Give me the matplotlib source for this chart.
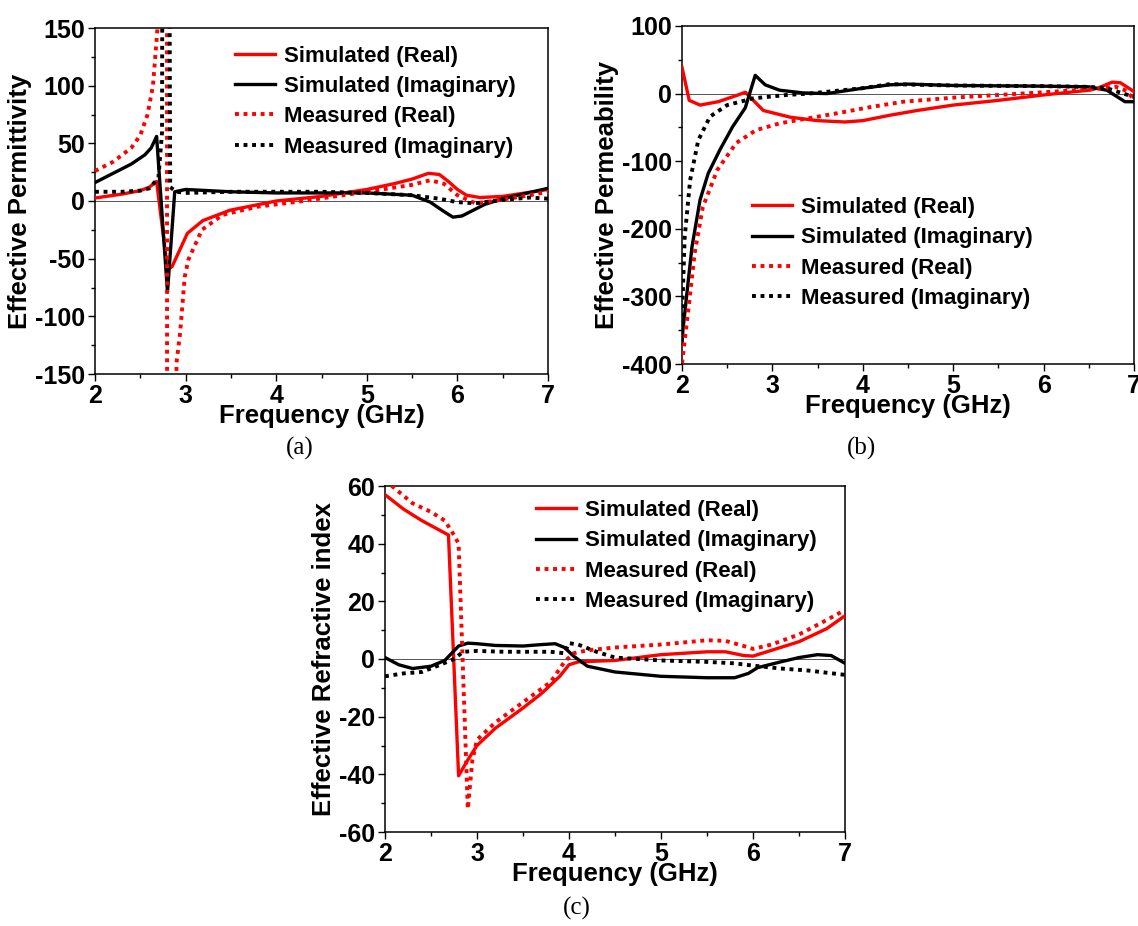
import numpy as np
import matplotlib
matplotlib.use("Agg")
import matplotlib.pyplot as plt

plt.rcParams['font.family'] = ['Liberation Sans', 'DejaVu Sans']
plt.rcParams['font.weight'] = 'bold'
plt.rcParams['axes.unicode_minus'] = False

# ---------------- (a) effective permittivity ----------------
a_sim_re_f = [2.0, 2.3, 2.5, 2.6, 2.68, 2.8, 2.85, 3.02, 3.19, 3.49, 4.0, 4.5, 5.0, 5.3, 5.5, 5.68, 5.8, 5.9, 6.0, 6.1, 6.25, 6.5, 7.0]
a_sim_re = [2.6, 6, 9, 12, 17, -59, -57, -28, -17, -8, 0, 4, 10, 15, 19, 24, 23, 17, 10, 5, 3, 4, 10]

a_sim_im_f = [2.0, 2.2, 2.4, 2.55, 2.62, 2.68, 2.8, 2.88, 3.0, 3.5, 4.0, 5.0, 5.5, 5.7, 5.85, 5.95, 6.05, 6.3, 6.5, 7.0]
a_sim_im = [16, 24, 32, 40, 46, 56, -79, 8, 10, 8, 7, 7, 5, -1, -9, -14, -13, -3, 2, 11]

a_mea_re_f = [2.0, 2.2, 2.4, 2.5, 2.58, 2.64, 2.69, 2.72, 2.79, 2.8, 2.86, 2.9, 2.94, 2.99, 3.03, 3.18, 3.41, 3.79, 4.3, 5.0, 5.5, 5.7, 5.85, 6.0, 6.2, 6.4, 6.8, 7.0]
a_mea_re = [26, 34, 46, 57, 75, 100, 150, 400, 3000, -3000, -400, -140, -114, -66, -51, -25, -12, -5, 0, 8, 14, 18, 15, 5, -2, 0, 5, 8]

a_mea_im_f = [2.0, 2.3, 2.5, 2.6, 2.7, 2.74, 2.75, 2.81, 2.83, 2.9, 3.0, 3.5, 4.0, 4.5, 5.0, 5.5, 5.8, 6.0, 6.2, 6.5, 6.8, 7.0]
a_mea_im = [8, 8, 9, 11, 20, 60, 500, 500, 12, 8, 7, 8, 8, 8, 7, 5, 2, -1, -2, 1, 3, 2]

# ---------------- (b) effective permeability ----------------
b_sim_re_f = [2.0, 2.08, 2.2, 2.4, 2.6, 2.7, 2.9, 3.2, 3.5, 3.8, 4.0, 4.3, 4.6, 5.0, 5.5, 6.0, 6.5, 6.6, 6.76, 6.85, 7.0]
b_sim_re = [39, -10, -17, -12, -3, 2, -25, -35, -40, -42, -40, -32, -25, -17, -10, -2, 5, 8, 17, 16, 3]

b_sim_im_f = [2.0, 2.01, 2.11, 2.2, 2.29, 2.42, 2.56, 2.7, 2.81, 2.92, 3.08, 3.34, 3.6, 4.0, 4.3, 4.5, 5.0, 6.0, 6.5, 6.7, 6.9, 7.0]
b_sim_im = [-370, -350, -227, -157, -118, -83, -49, -21, 27, 13, 5, 1, 0, 8, 13, 14, 12, 11, 10, 5, -12, -12]

b_mea_re_f = [2.0, 2.07, 2.14, 2.23, 2.39, 2.6, 2.82, 3.08, 3.42, 3.72, 4.08, 4.45, 5.0, 5.5, 6.0, 6.5, 6.8, 6.9, 7.0]
b_mea_re = [-399, -320, -236, -168, -113, -73, -54, -44, -36, -29, -20, -12, -6, -2, 2, 6, 10, 5, -8]

b_mea_im_f = [2.0, 2.03, 2.09, 2.18, 2.31, 2.5, 2.79, 3.16, 3.4, 4.0, 4.3, 5.0, 6.0, 6.5, 6.7, 7.0]
b_mea_im = [-330, -212, -128, -69, -34, -17, -7, -2, 0, 8, 14, 12, 11, 10, 8, -5]

# ---------------- (c) effective refractive index ----------------
c_sim_re_f = [2.0, 2.2, 2.4, 2.69, 2.8, 2.9, 3.0, 3.2, 3.5, 3.7, 3.9, 4.0, 4.1, 4.5, 5.0, 5.5, 5.7, 5.9, 6.0, 6.2, 6.5, 6.8, 7.0]
c_sim_re = [57, 52, 48, 43, -40.5, -35, -30, -24, -17, -12, -6, -2, -1, -0.5, 1.5, 2.5, 2.5, 1.2, 1, 3, 6, 10.5, 15]

c_mea_re_f = [2.0, 2.3, 2.5, 2.65, 2.75, 2.8, 2.9, 2.95, 3.0, 3.2, 3.5, 3.8, 3.95, 4.05, 4.2, 4.5, 5.0, 5.5, 5.7, 5.9, 6.0, 6.2, 6.5, 6.8, 7.0]
c_mea_re = [62, 54, 51, 48, 43, 40, -52, -35, -28, -22, -15, -8, -1, 2, 3, 4, 5, 6.5, 6.3, 4.5, 3.5, 5, 8.5, 13.5, 17]

c_sim_im_f = [2.0, 2.15, 2.3, 2.5, 2.65, 2.8, 2.9, 3.0, 3.2, 3.5, 3.7, 3.85, 3.95, 4.05, 4.2, 4.5, 5.0, 5.5, 5.8, 5.95, 6.05, 6.3, 6.5, 6.7, 6.85, 7.0]
c_sim_im = [0.5, -2, -3.3, -2.5, -0.5, 4.5, 5.5, 5.3, 4.7, 4.5, 5, 5.3, 4, 1, -2.5, -4.5, -6, -6.5, -6.5, -5, -3, -1, 0.5, 1.5, 1.2, -1.5]

c_mea_im_f = [2.0, 2.2, 2.4, 2.6, 2.75, 2.85, 3.0, 3.3, 3.6, 3.8, 3.95, 4.0, 4.1, 4.3, 4.5, 5.0, 5.5, 5.8, 6.0, 6.3, 6.6, 7.0]
c_mea_im = [-6, -5, -4.5, -2, 0, 2.5, 2.8, 2.5, 2.5, 2.5, 2, 5.5, 5, 2.5, 0.5, -0.5, -1, -1.5, -2.3, -3.3, -4, -5.5]

labels = ['Simulated (Real)', 'Simulated (Imaginary)', 'Measured (Real)', 'Measured (Imaginary)']

fig = plt.figure(figsize=(11.38, 9.26), dpi=100)
W, H = 1138, 926


def make_ax(l, t, r, b):
    return fig.add_axes([l / W, 1 - b / H, (r - l) / W, (b - t) / H])


def draw_panel(ax, series, ylim, ymajor, yminor, ylabel, leg_anchor):
    ax.axhline(0, color='#555555', lw=0.7, zorder=1)
    styles = [('red', '-'), ('black', '-'), ('red', (0, (1, 1.2))), ('black', (0, (1, 1.2)))]
    for (f, v), (c, ls), lab in zip(series, styles, labels):
        ax.plot(f, v, color=c, ls=ls, lw=2.4 if ls == '-' else 2.8, label=lab, zorder=3)
    ax.set_xlim(2, 7)
    ax.set_ylim(*ylim)
    ax.set_xticks(np.arange(2, 7.01, 1))
    ax.set_xticks(np.arange(2.5, 7, 1), minor=True)
    ax.set_yticks(ymajor)
    ax.set_yticks(yminor, minor=True)
    ax.tick_params(which='both', direction='out', top=False, right=False, labelsize=18, width=1.0, pad=2)
    ax.tick_params(which='major', length=5)
    ax.tick_params(which='minor', length=3)
    for lab in ax.get_xticklabels() + ax.get_yticklabels():
        lab.set_fontweight('bold')
    for s in ax.spines.values():
        s.set_linewidth(1.1)
    ax.set_xlabel('Frequency (GHz)', fontsize=18.5, fontweight='bold', labelpad=-3)
    ax.set_ylabel(ylabel, fontsize=18.5, fontweight='bold', labelpad=2)
    ax.legend(loc='upper left', bbox_to_anchor=leg_anchor, frameon=False, fontsize=16,
              handlelength=1.8, handletextpad=0.4, labelspacing=0.42, borderaxespad=0)


ax1 = make_ax(95, 28, 548, 374)
draw_panel(ax1, [(a_sim_re_f, a_sim_re), (a_sim_im_f, a_sim_im), (a_mea_re_f, a_mea_re), (a_mea_im_f, a_mea_im)],
           (-150, 150), np.arange(-150, 151, 50), np.arange(-125, 150, 50), 'Effective Permittivity', (0.29, 0.975))

ax2 = make_ax(682, 26, 1134, 364)
draw_panel(ax2, [(b_sim_re_f, b_sim_re), (b_sim_im_f, b_sim_im), (b_mea_re_f, b_mea_re), (b_mea_im_f, b_mea_im)],
           (-400, 100), np.arange(-400, 101, 100), np.arange(-350, 100, 100), 'Effective Permeability', (0.135, 0.52))

ax3 = make_ax(385, 486, 845, 832)
draw_panel(ax3, [(c_sim_re_f, c_sim_re), (c_sim_im_f, c_sim_im), (c_mea_re_f, c_mea_re), (c_mea_im_f, c_mea_im)],
           (-60, 60), np.arange(-60, 61, 20), np.arange(-50, 60, 20), 'Effective Refractive index', (0.31, 0.985))

for txt, x, y in [('(a)', 300, 448), ('(b)', 862, 448), ('(c)', 577, 908)]:
    fig.text(x / W, 1 - y / H, txt, ha='center', va='center', fontsize=18, family='Liberation Serif',
             fontweight='normal')

fig.savefig('out.png', dpi=100)
